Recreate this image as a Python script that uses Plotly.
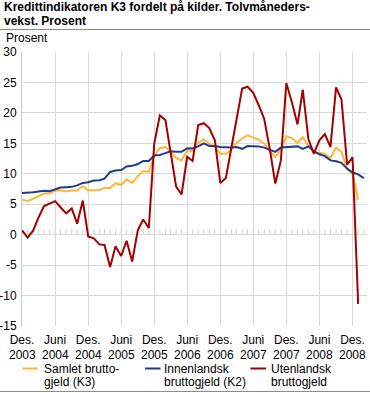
import plotly.graph_objects as go
import pandas as pd

# ---------------- data ----------------
months = pd.date_range("2003-12-01", periods=63, freq="MS")

samlet_k3 = [5.75, 5.55, 5.9, 6.3, 6.75, 6.75, 7.2, 7.3, 7.1, 7.3, 7.2, 8.0,
             7.3, 7.3, 7.35, 7.7, 7.65, 8.45, 8.15, 9.05, 8.5, 9.6, 10.45, 10.3,
             13.0, 14.2, 14.4, 13.7, 12.6, 12.2, 13.85, 13.7, 15.1, 15.65, 14.95, 14.4,
             13.3, 13.3, 14.0, 15.05, 15.8, 16.3, 16.0, 15.6, 14.95, 13.7, 12.75, 14.0,
             16.15, 15.9, 15.05, 16.0, 14.6, 13.5, 13.45, 13.3, 12.6, 14.3, 13.6, 10.7,
             10.0, 5.8]

innenlandsk_k2 = [6.85, 6.85, 6.95, 7.1, 7.2, 7.15, 7.45, 7.75, 7.8, 7.85, 8.1, 8.5,
                  8.6, 8.9, 8.95, 9.2, 10.3, 10.55, 10.6, 11.2, 11.3, 11.6, 12.1, 12.1,
                  13.0, 13.1, 13.4, 13.7, 13.6, 13.6, 14.2, 14.15, 14.5, 15.0, 14.55, 14.55,
                  14.4, 14.3, 14.3, 14.4, 14.1, 14.55, 14.5, 14.5, 14.3, 13.9, 13.6, 14.3,
                  14.4, 14.5, 14.5, 14.1, 14.5, 13.7, 13.2, 12.9, 12.2, 12.05, 11.8, 10.85,
                  10.2, 9.9, 9.3]

utenlandsk = [0.7, -0.5, 0.7, 2.8, 4.7, 5.1, 5.5, 4.5, 3.5, 4.3, 1.8, 5.6,
              -0.3, -0.6, -1.6, -1.7, -5.3, -1.9, -3.5, -1.0, -4.4, 0.7, 2.5, 1.1,
              15.0, 19.6, 18.8, 13.6, 7.9, 6.6, 12.8, 12.1, 18.0, 18.3, 17.5, 15.5,
              8.5, 9.3, 14.2, 19.1, 24.0, 24.3, 23.3, 21.3, 19.0, 14.0, 8.4, 12.2,
              24.9, 21.7, 18.1, 23.8, 15.7, 13.3, 15.5, 16.5, 14.4, 24.2, 22.2, 11.5,
              12.7, -11.4]

series_names = ["Samlet bruttogjeld (K3)",
                "Innenlandsk bruttogjeld (K2)",
                "Utenlandsk bruttogjeld"]
legend_lines = [["Samlet brutto-", "gjeld (K3)"],
                ["Innenlandsk", "bruttogjeld (K2)"],
                ["Utenlandsk", "bruttogjeld"]]

x_tick_dates = pd.date_range("2003-12-01", periods=11, freq="6MS")
x_tick_months = ["Des.", "Juni", "Des.", "Juni", "Des.", "Juni",
                 "Des.", "Juni", "Des.", "Juni", "Des."]
x_tick_years = ["2003", "2004", "2004", "2005", "2005", "2006",
                "2006", "2007", "2007", "2008", "2008"]
y_tick_vals = [-15, -10, -5, 0, 5, 10, 15, 20, 25, 30]
y_tick_text = ["-15", "-10", "-5", "0", "5", "10", "15", "20", "25", "30"]

title_lines = ["Kredittindikatoren K3 fordelt på kilder. Tolvmåneders-",
               "vekst. Prosent"]
y_unit = "Prosent"

colors = ["#FFB637", "#1C3C8F", "#A30000"]

# ---------------- layout geometry ----------------
W, H = 370, 393
L, R, T, B = 22, 3, 52, 67
PW, PH = W - L - R, H - T - B
FONT = "Liberation Sans, Arial, sans-serif"


def px_x(px):
    return (px - L) / PW


def px_y(py):
    return (H - B - py) / PH


fig = go.Figure()
series = [samlet_k3, innenlandsk_k2, utenlandsk]
for i, vals in enumerate(series):
    fig.add_trace(go.Scatter(x=months[:len(vals)], y=vals, mode="lines",
                             name=series_names[i],
                             line=dict(color=colors[i], width=2),
                             showlegend=False))

shapes = []
# monthly minor ticks on the zero line
for d in months:
    shapes.append(dict(type="line", xref="x", yref="y", x0=d, x1=d, y0=0, y1=0.9,
                       line=dict(color="#cfcfcf", width=1), layer="below"))
# rules under title and at bottom
shapes.append(dict(type="line", xref="paper", yref="paper", x0=px_x(0), x1=px_x(W),
                   y0=px_y(29.5), y1=px_y(29.5), line=dict(color="#8c8c8c", width=1)))
shapes.append(dict(type="line", xref="paper", yref="paper", x0=px_x(0), x1=px_x(W),
                   y0=px_y(391.5), y1=px_y(391.5), line=dict(color="#8c8c8c", width=1)))

annotations = []
# title
for j, t in enumerate(title_lines):
    annotations.append(dict(text="<b>" + t + "</b>", xref="paper", yref="paper",
                            x=px_x(1.5), y=px_y(7 + 14 * j), xanchor="left",
                            yanchor="middle", showarrow=False,
                            font=dict(family=FONT, size=12, color="#000000")))

# second line of the x tick labels (years)
for d, yr in zip(x_tick_dates, x_tick_years):
    annotations.append(dict(text=yr, xref="x", yref="paper", x=d, y=px_y(354.5),
                            xanchor="center", yanchor="middle", showarrow=False,
                            font=dict(family=FONT, size=12, color="#000000")))

# legend (manual)
legend_sym_x = [(22.5, 37.5), (145, 160.5), (250.5, 266)]
legend_text_x = [41.5, 162, 269]
for i in range(3):
    shapes.append(dict(type="line", xref="paper", yref="paper",
                       x0=px_x(legend_sym_x[i][0]), x1=px_x(legend_sym_x[i][1]),
                       y0=px_y(368.5), y1=px_y(368.5),
                       line=dict(color=colors[i], width=2)))
    for j, line_txt in enumerate(legend_lines[i]):
        annotations.append(dict(text=line_txt, xref="paper", yref="paper",
                                x=px_x(legend_text_x[i]), y=px_y(368.5 + 13.5 * j),
                                xanchor="left", yanchor="middle", showarrow=False,
                                font=dict(family=FONT, size=12, color="#000000")))

annotations.append(dict(text=y_unit, xref="paper", yref="paper", x=px_x(4), y=px_y(37.5),
                        xanchor="left", yanchor="middle", showarrow=False,
                        font=dict(family=FONT, size=12, color="#000000")))

fig.update_layout(
    width=W, height=H,
    margin=dict(l=L, r=R, t=T, b=B, autoexpand=False),
    paper_bgcolor="white", plot_bgcolor="white",
    font=dict(family=FONT, size=12, color="#000000"),
    showlegend=False,
    shapes=shapes,
    annotations=annotations,
    xaxis=dict(type="date", range=[months[0], "2009-02-19"],
               tickmode="array", tickvals=list(x_tick_dates), ticktext=x_tick_months,
               showgrid=True, gridcolor="#d9d9d9", gridwidth=1,
               zeroline=False, showline=False, ticks="", automargin=False,
               ticklabelstandoff=5,
               tickfont=dict(family=FONT, size=12, color="#000000"),
               fixedrange=True),
    yaxis=dict(range=[-15, 30], tickmode="array", tickvals=y_tick_vals,
               ticktext=y_tick_text, showgrid=True, gridcolor="#d9d9d9", gridwidth=1,
               zeroline=False, showline=True, linecolor="#c8c8c8", linewidth=1,
               ticks="", ticklabelstandoff=2, automargin=False,
               tickfont=dict(family=FONT, size=12, color="#000000"),
               fixedrange=True),
)

fig.write_html("out.html", config={"displayModeBar": False},
               post_script="document.body.style.margin='0px';document.body.style.overflow='hidden';")
